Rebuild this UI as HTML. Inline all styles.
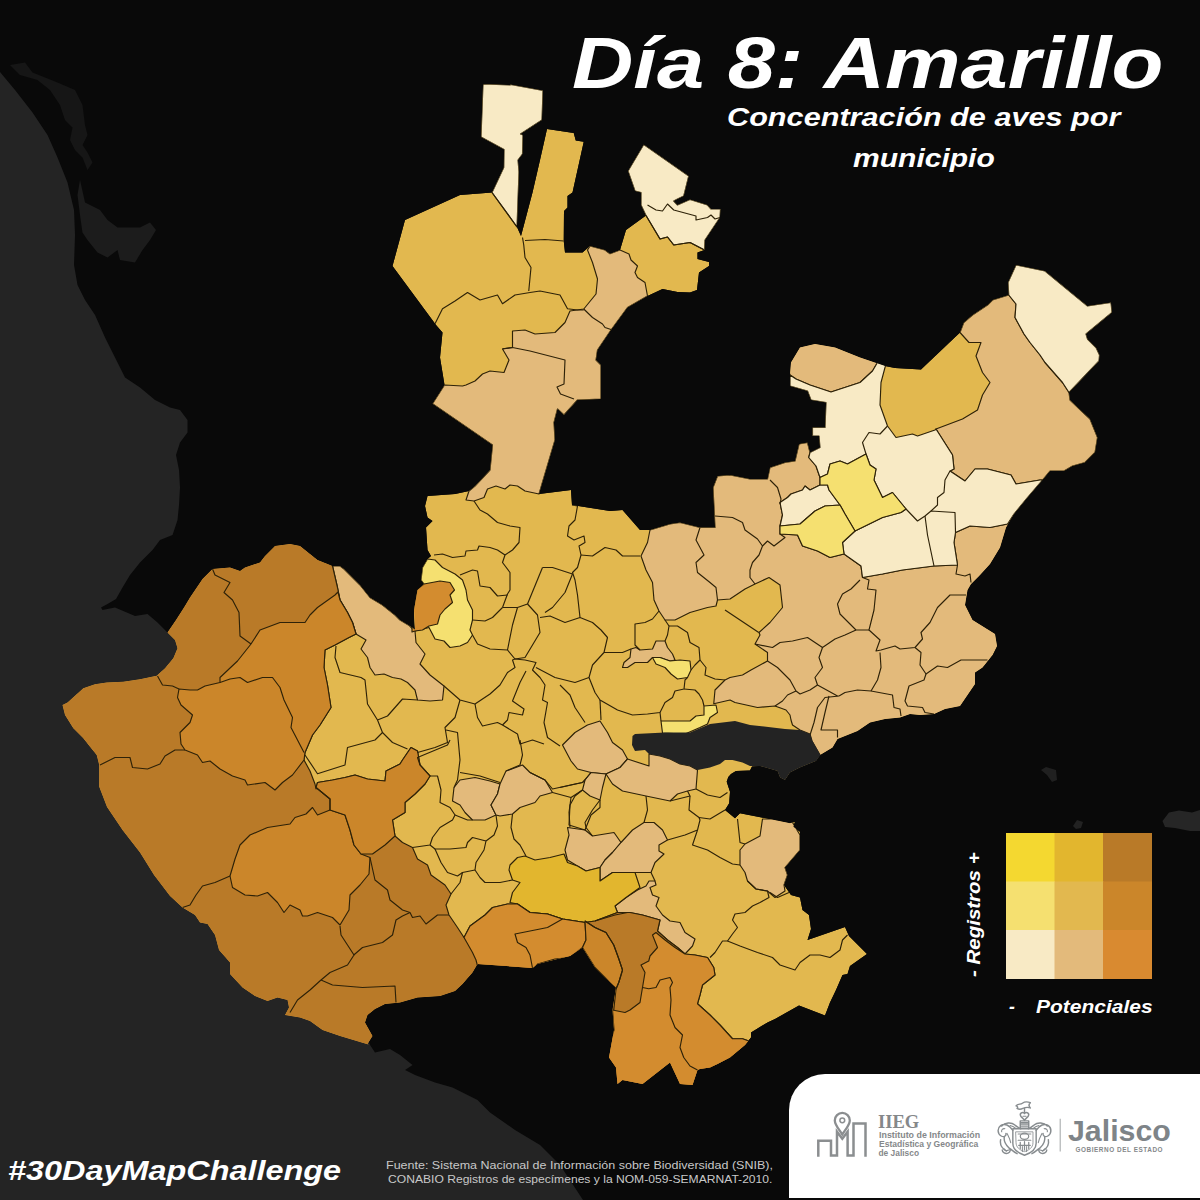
<!DOCTYPE html>
<html><head><meta charset="utf-8"><title>Dia 8: Amarillo</title>
<style>
html,body{margin:0;padding:0;background:#090909;}
body{width:1200px;height:1200px;position:relative;overflow:hidden;font-family:"Liberation Sans",sans-serif;color:#fff;}
.t{position:absolute;white-space:nowrap;line-height:1;transform-origin:0 0;}
#title{left:572.3px;top:25.5px;font-size:73px;font-weight:bold;font-style:italic;transform:scaleX(1.163);}
#sub1{left:727px;top:104px;font-size:26px;font-weight:bold;font-style:italic;transform:scaleX(1.179);}
#sub2{left:853px;top:144.5px;font-size:26px;font-weight:bold;font-style:italic;transform:scaleX(1.155);}
#hash{left:8px;top:1158px;font-size:27px;font-weight:bold;font-style:italic;transform:scaleX(1.2);}
#src1{left:386px;top:1160px;font-size:11px;color:#c8c8c8;transform:scaleX(1.136);}
#src2{left:388px;top:1174px;font-size:11px;color:#c8c8c8;transform:scaleX(1.10);}
#pot0{left:1009px;top:998.5px;font-size:17.5px;font-weight:bold;font-style:italic;}
#pot{left:1036px;top:998.5px;font-size:17.5px;font-weight:bold;font-style:italic;transform:scaleX(1.2);}
#reg{left:964px;top:977px;font-size:19px;font-weight:bold;font-style:italic;transform:rotate(-90deg) scaleX(1.078);}
#logo{position:absolute;left:789px;top:1074px;width:420px;height:123.500px;background:#fff;border-top-left-radius:36px;}
.lg{position:absolute;white-space:nowrap;line-height:1;transform-origin:0 0;color:#85888a;font-weight:bold;}
#iieg{left:878px;top:1113.4px;font-family:"Liberation Serif",serif;font-size:18.5px;transform:scaleX(1.0);}
#i1{left:878.5px;top:1131.2px;font-size:8.4px;transform:scaleX(1.06);}
#i2{left:878.5px;top:1140.4px;font-size:8.4px;transform:scaleX(1.02);}
#i3{left:878.5px;top:1149px;font-size:8.4px;transform:scaleX(1.0);}
#jal{left:1068px;top:1117px;font-size:28.7px;color:#7e8488;transform:scaleX(1.057);}
#gob{left:1075.5px;top:1147px;font-size:6.4px;letter-spacing:0.55px;color:#85888a;}

</style></head><body>
<svg width="1200" height="1200" viewBox="0 0 1200 1200" style="position:absolute;left:0;top:0">
<defs><clipPath id="st"><polygon points="483,84 510,85 510.5,84.5 543,90.5 542,120 520.5,134 523,135 522.5,154 518,160 519,172 517,227 521,236 532.5,192.5 540,160 547,129 573.75,133 575.75,140.5 583.75,141.75 577.5,170 572.5,192.5 567.5,196 567.5,207.5 564,211 563.75,241 565,252.5 582.5,252.5 590,246 605,250 610,253.75 620,250 626,230 646,215.5 641,205 641,192.5 635,191 628,171 643.75,144.5 688.75,176 683.75,196 677.5,199 673.75,201 677.5,205 690,199.5 707.5,205 711,209 720.5,209 720,217.5 705,240 704.5,250 697.5,252.5 697.5,259 709,262 709,266 699,272.5 697,290 690,292.5 677.5,292 662.5,289 647.5,296 627.5,307.5 611,330 597.5,350 596,360 601,365 601,399 577.5,400 564,415 557.5,409 554,422.5 555,440 539,494 571,490 572,505 610,511 622.5,510 640,530 650,530 670,524 680,522.5 700,527.5 715,527.5 713,487.5 717.5,476 730,475 750,479 767.5,479 770,467.5 785,462.5 795,461 799,444 807.5,442.5 810,452.5 820,447.5 819,436 812.5,436 812.5,427.5 825,427.5 826,402.5 811,400 807.5,391 790,386 790,375 791,362.5 800,347.5 815,344 835,347.5 860,357.5 885,366 895,368 921,369.5 960,332.5 963.75,322.5 972.5,315 987.5,305 992.5,300 1008.75,295 1008,282.5 1016,265 1045,271 1065,287.5 1087.5,306 1111,302.5 1112,312.5 1086,334 1087.5,339 1096,347.5 1099.5,355 1099,361 1069,392.5 1070,400 1090,419 1097.5,437.5 1095,452.5 1085,462.5 1072.5,466 1064,471 1050,471 1042.5,480 1027.5,497.5 1014,514 1006,527.5 1000,547.5 990,564 980,575 971,584 967.5,590 965,605 972.5,620 995,634 997,646 992.5,655 982.5,667.5 975,672.5 975,684 967.5,695 960,706 945,709 934,714 920,715 910,714 900,717.5 885,719 870,722.5 857.5,731 847.5,735 837.5,739 832.5,747.5 820,755 816,761 800,767.5 790,772.5 785,780 780,777.5 777.5,771 760,766 752,766.5 750,770.5 736,771 731,774 728.3,777 726.7,781.7 730,791.7 729.2,803.3 725,810 735,818.3 740,813.3 761.7,817.5 790,823.3 795,821.7 793.3,826.7 800,831.7 800,850 785,867.5 787.5,875 784,885 791,895 800,897.5 802.5,910 809,915 811,929 807.5,940 845,927 849,936 867,954 850,966 847.5,974 842.5,975 836,990 830,1002.5 825,1015.5 799,1005.5 775,1019 767.5,1022.5 751,1032.5 751,1037.5 745,1045 730,1057.5 717.5,1064 710,1067.5 700,1069 697.5,1070 692.5,1085 680,1084 670,1062.5 642.5,1084 622.5,1080 617.5,1084 616,1067.5 609,1057.5 614,1030 612.5,1010 616,987.5 605,977.5 595,967.5 582.5,947.5 570,956 557.5,959 537.5,964 532.5,968 477.5,964 472.5,972.5 462.5,984 455,991 440,996 417.5,997.5 400,1002.5 385,1004 375,1009 367.5,1015 365,1022.5 372.5,1036 367.5,1044 370,1045 340,1036 322.5,1030 310,1021 300,1017.5 285,1015 289,1007.5 287.5,1000 277.5,997.5 267.5,1001 255,996 242.5,987.5 230,974 230,962.5 219,950 215,935 207.5,924 200,922.5 195,915 182.5,907.5 170,896 154,875 140,852.5 122.5,830 107,807 99.2,786.7 99.2,765 96.7,755 90,746.7 83.3,738.3 73.3,728.3 65,715 62.5,705 67.5,702.5 75,695.8 83.3,688.3 95,684.2 106.7,682.5 123.3,681.7 140,679.2 156.7,675.8 165,668.3 173.3,658.3 177.5,648.3 175,640 167.5,632.5 176,620 184,607.5 190,597.5 202.5,579 212.5,569 230,567.5 240,571 245,567.5 260,562.5 265,556 275,546 290,544 300,546 305,550 317.5,560 332.5,566 340,566 344,569 350,575 360,585 370,597.5 382.5,605 395,615 400,620 410,626 415,630 414,610 417.5,590 424,584 421,580 422.5,567.5 427.5,559 431,556 427.5,550 426,527.5 432.5,521 427.5,517.5 425,506 427.5,496 455,494 469,491 475,486 490,470 492.5,445 432.5,403.75 444.5,385 440,357.5 442.5,332.5 436,325 392.5,266 405,220 460,195 492,192.5 503.75,167.5 504,149.5 481,137"/></clipPath></defs>
<rect width="1200" height="1200" fill="#090909"/>
<polygon points="0,72 15,90 32.5,112.5 47.5,135 57.5,157.5 67.5,182.5 74,210 75,235 74,265 77.5,285 85,300 95,315 105,337.5 115,357.5 125,377.5 140,387.5 155,400 170,407.5 180,410 187.5,420 187.5,432.5 180,442.5 176,455 179,470 180,487.5 179,505 177.5,520 172.5,535 160,540 152.5,550 140,562.5 130,575 122.5,587.5 116,599 107.5,604 101,607.5 102.5,610 115,607.5 135,616 147.5,614 157.5,622.5 167.5,632.5 190,640 370,1045 375,1052.5 390,1049 400,1055 412.5,1065 405,1070 415,1075 435,1082.5 452.5,1087.5 477.5,1100 490,1112.5 515,1130 540,1145 560,1165 583,1200 0,1200" fill="#242424"/>
<polygon points="80,180 85,202.5 100,210 107.5,220 117.5,227.5 140,227.5 150,222.5 156,230 150,240 142.5,250 135,262.5 120,260 117.5,250 107.5,257.5 97.5,252.5 87.5,240 82.5,232.5 80,215 77.5,195" fill="#1c1c1c"/>
<polygon points="10,65 25,62.5 32.5,72.5 57.5,82.5 75,90 82.5,105 85,125 87.5,135 82.5,145 87.5,152.5 92.5,162.5 87.5,170 82.5,157.5 75,150 70,140 72.5,127.5 65,120 60,105 50,90 37.5,80 20,75" fill="#161616"/>
<polygon points="1162.5,821 1169,812.5 1179,810.5 1192,812.5 1200,810 1200,831 1190,831 1175,828 1165,827" fill="#262626"/>
<polygon points="1073,826 1077,820 1083,822 1081,828 1076,829" fill="#222"/>
<polygon points="1041,770 1046,767 1056,770 1057,780 1052,782 1047,775" fill="#202020"/>
<g clip-path="url(#st)" stroke-linejoin="round">
<polygon points="483,84 510,85 510.5,84.5 543,90.5 542,120 520.5,134 523,135 522.5,154 518,160 519,172 517,227 521,236 532.5,192.5 540,160 547,129 573.75,133 575.75,140.5 583.75,141.75 577.5,170 572.5,192.5 567.5,196 567.5,207.5 564,211 563.75,241 565,252.5 582.5,252.5 590,246 605,250 610,253.75 620,250 626,230 646,215.5 641,205 641,192.5 635,191 628,171 643.75,144.5 688.75,176 683.75,196 677.5,199 673.75,201 677.5,205 690,199.5 707.5,205 711,209 720.5,209 720,217.5 705,240 704.5,250 697.5,252.5 697.5,259 709,262 709,266 699,272.5 697,290 690,292.5 677.5,292 662.5,289 647.5,296 627.5,307.5 611,330 597.5,350 596,360 601,365 601,399 577.5,400 564,415 557.5,409 554,422.5 555,440 539,494 571,490 572,505 610,511 622.5,510 640,530 650,530 670,524 680,522.5 700,527.5 715,527.5 713,487.5 717.5,476 730,475 750,479 767.5,479 770,467.5 785,462.5 795,461 799,444 807.5,442.5 810,452.5 820,447.5 819,436 812.5,436 812.5,427.5 825,427.5 826,402.5 811,400 807.5,391 790,386 790,375 791,362.5 800,347.5 815,344 835,347.5 860,357.5 885,366 895,368 921,369.5 960,332.5 963.75,322.5 972.5,315 987.5,305 992.5,300 1008.75,295 1008,282.5 1016,265 1045,271 1065,287.5 1087.5,306 1111,302.5 1112,312.5 1086,334 1087.5,339 1096,347.5 1099.5,355 1099,361 1069,392.5 1070,400 1090,419 1097.5,437.5 1095,452.5 1085,462.5 1072.5,466 1064,471 1050,471 1042.5,480 1027.5,497.5 1014,514 1006,527.5 1000,547.5 990,564 980,575 971,584 967.5,590 965,605 972.5,620 995,634 997,646 992.5,655 982.5,667.5 975,672.5 975,684 967.5,695 960,706 945,709 934,714 920,715 910,714 900,717.5 885,719 870,722.5 857.5,731 847.5,735 837.5,739 832.5,747.5 820,755 816,761 800,767.5 790,772.5 785,780 780,777.5 777.5,771 760,766 752,766.5 750,770.5 736,771 731,774 728.3,777 726.7,781.7 730,791.7 729.2,803.3 725,810 735,818.3 740,813.3 761.7,817.5 790,823.3 795,821.7 793.3,826.7 800,831.7 800,850 785,867.5 787.5,875 784,885 791,895 800,897.5 802.5,910 809,915 811,929 807.5,940 845,927 849,936 867,954 850,966 847.5,974 842.5,975 836,990 830,1002.5 825,1015.5 799,1005.5 775,1019 767.5,1022.5 751,1032.5 751,1037.5 745,1045 730,1057.5 717.5,1064 710,1067.5 700,1069 697.5,1070 692.5,1085 680,1084 670,1062.5 642.5,1084 622.5,1080 617.5,1084 616,1067.5 609,1057.5 614,1030 612.5,1010 616,987.5 605,977.5 595,967.5 582.5,947.5 570,956 557.5,959 537.5,964 532.5,968 477.5,964 472.5,972.5 462.5,984 455,991 440,996 417.5,997.5 400,1002.5 385,1004 375,1009 367.5,1015 365,1022.5 372.5,1036 367.5,1044 370,1045 340,1036 322.5,1030 310,1021 300,1017.5 285,1015 289,1007.5 287.5,1000 277.5,997.5 267.5,1001 255,996 242.5,987.5 230,974 230,962.5 219,950 215,935 207.5,924 200,922.5 195,915 182.5,907.5 170,896 154,875 140,852.5 122.5,830 107,807 99.2,786.7 99.2,765 96.7,755 90,746.7 83.3,738.3 73.3,728.3 65,715 62.5,705 67.5,702.5 75,695.8 83.3,688.3 95,684.2 106.7,682.5 123.3,681.7 140,679.2 156.7,675.8 165,668.3 173.3,658.3 177.5,648.3 175,640 167.5,632.5 176,620 184,607.5 190,597.5 202.5,579 212.5,569 230,567.5 240,571 245,567.5 260,562.5 265,556 275,546 290,544 300,546 305,550 317.5,560 332.5,566 340,566 344,569 350,575 360,585 370,597.5 382.5,605 395,615 400,620 410,626 415,630 414,610 417.5,590 424,584 421,580 422.5,567.5 427.5,559 431,556 427.5,550 426,527.5 432.5,521 427.5,517.5 425,506 427.5,496 455,494 469,491 475,486 490,470 492.5,445 432.5,403.75 444.5,385 440,357.5 442.5,332.5 436,325 392.5,266 405,220 460,195 492,192.5 503.75,167.5 504,149.5 481,137" fill="#E2B84F"/>
<polygon points="590,246 605,250 610,253.75 620,250 629,254 631,260 637.5,266 635,272.5 637.5,277.5 645,282.5 647.5,296 627.5,307.5 611,330 597.5,350 596,360 601,365 601,399 577.5,400 564,415 557.5,409 554,422.5 555,440 539,494 525,491 517.5,486 510,485 505,489 496,486 487.5,489 484,497.5 474,501 466,500 469,491 475,486 490,470 492.5,445 432.5,403.75 444.5,385 462.5,386 466,385 475,381 482.5,374 490,371 504,372.5 509,360 502.5,349 512.5,347.5 512.5,331 525,330 535,334 555,332.5 565,322.5 570,311 583.75,309 585,307.5 596,294 597.5,279 592.5,262.5 587.5,250" fill="#E3BA7B" stroke="#2e2208" stroke-width="1.15"/>
<polygon points="650,530 670,524 680,522.5 700,527.5 715,527.5 713,487.5 717.5,476 730,475 750,479 767.5,479 770,467.5 785,462.5 795,461 799,444 807.5,442.5 810,452.5 808.75,457.5 816,466 820,477.5 820,485 810,490 805,486 802.5,490 791,494 787.5,497.5 780,502.5 782.5,515 780,526 780,534 797.5,535 802.5,546 817.5,551 830,557.5 844,554 861,566 862.5,577.5 882.5,574 902.5,570 934,566 957.5,565 954,542.5 955.5,532.5 970,526 990,527.5 1007.5,524 1030,520 1010,640 990,700 900,730 830,760 820,755 812,741 810,734 800,730 792.5,725 791,720 790,715 786,710 775,706 757.5,707.5 735,702.5 730,700 713.75,703.75 715,690 725,680 730,677.5 742.5,675 751,670 767.5,661 767.5,652.5 755,644 760,635 759,632.5 770,622.5 782.5,607.5 780,585 769,577.5 755,584 745,589 730,599 717.5,600 716,606 707.5,607.5 690,612.5 675,620 665,620 659,611 654,600 652.5,582.5 646,570 641,556 647.5,542.5" fill="#E3BA7B" stroke="#2e2208" stroke-width="1.15"/>
<polygon points="936,429 952.5,455 954,469 950,471 965,481 975,469 987.5,469 1011,475 1016,484 1040,480 1042.5,480 1050,471 1064,471 1072.5,466 1085,462.5 1095,452.5 1097.5,437.5 1090,419 1070,400 1069,392.5 1062.5,382.5 1045,362.5 1040,355 1030,342.5 1024,334 1015,317.5 1016,304 1008.75,295 992.5,300 987.5,305 972.5,315 963.75,322.5 960,332.5 969,342.5 981,342.5 976,356 982.5,372.5 990,382.5 982.5,395 977.5,410 962.5,419" fill="#E3BA7B" stroke="#2e2208" stroke-width="1.15"/>
<polygon points="790,375 786,362 796,342 815,338 837,341 863,352 879,361 876,365 872.5,371 860,382.5 831,392 810,385 796,379" fill="#E3BA7B" stroke="#2e2208" stroke-width="1.15"/>
<polygon points="332.5,566 340,566 344,569 350,575 360,585 370,597.5 382.5,605 395,615 400,620 410,626 415,631 416,642.5 425,654 420,664 430,675 444,686 442.5,700 430,701 417.5,700 415,690 407.5,682.5 401,679 392.5,677.5 384,674 375,675 370,667.5 367.5,657.5 361,649 366,640 356,634 352.5,622.5 347.5,612.5 340,600 337.5,587.5" fill="#E3BA7B" stroke="#2e2208" stroke-width="1.15"/>
<polygon points="622.5,667.5 624,662.5 630,657.5 631,649 636,647.5 640,650 652.5,649 656,641 665,641 667.5,647.5 672.5,654 675,660 670,661 660,657.5 652.5,657.5 647.5,662.5 635,662.5 627.5,667.5" fill="#E3BA7B" stroke="#2e2208" stroke-width="1.15"/>
<polygon points="562.5,745 575,732.5 587.5,725 600,721 607.5,732.5 612.5,742.5 622.5,750 627.5,759 620,767.5 606,774 591,772.5 577.5,769 571,761" fill="#E3BA7B" stroke="#2e2208" stroke-width="1.15"/>
<polygon points="606,774 620,767.5 627.5,759 649,766 649,754 660,756 670,759 680,764 690,766 697.5,770 696,789 687.5,791 677.5,794 670,801 646,796 622.5,791 612.5,784" fill="#E3BA7B" stroke="#2e2208" stroke-width="1.15"/>
<polygon points="591,772.5 606,774 602.5,787.5 600,800 590,796 582.5,790 585,780" fill="#E3BA7B" stroke="#2e2208" stroke-width="1.15"/>
<polygon points="565,850 569,835 567.5,827.5 585,830 592.5,836 614,832.5 621,842.5 612.5,852.5 605,860 600,867.5 586,871 577.5,866 567.5,860" fill="#E3BA7B" stroke="#2e2208" stroke-width="1.15"/>
<polygon points="621,842.5 632.5,830 644,822.5 654,822.5 662.5,830 667.5,840 659,845 659,851 664,854 655,862.5 651,872.5 635,872.5 612.5,872.5 600,881 600,867.5 605,860 612.5,852.5" fill="#E3BA7B" stroke="#2e2208" stroke-width="1.15"/>
<polygon points="615,906 626,897.5 637.5,890 646,886 649,881 655,881 656,885 650,887.5 652.5,895 659,897.5 656,906 662.5,915 670,921 680,922.5 685,932.5 695,939 692.5,946 685,954 677.5,947.5 667.5,940 657.5,931 660,920 642.5,915 630,912.5 617.5,912.5" fill="#E3BA7B" stroke="#2e2208" stroke-width="1.15"/>
<polygon points="740,850 745,844 760,836 762.5,819 772.5,819 792.5,822.5 800,835 800,850 785,867.5 787.5,875 784,885 785,891 775,897.5 767.5,891 756,889 747.5,881 745,872.5 740,865" fill="#E3BA7B" stroke="#2e2208" stroke-width="1.15"/>
<polygon points="454,787.5 460,780 475,777.5 490,781 500,784 497.5,794 491,805 496,815 485,820 472.5,820 465,812.5 460,805 452.5,801" fill="#E3BA7B" stroke="#2e2208" stroke-width="1.15"/>
<polygon points="500,784 506,771 522.5,765 530,772.5 545,780 552.5,792.5 540,796 535,802.5 520,807.5 512.5,814 500,816 496,815 491,805 497.5,794" fill="#E3BA7B" stroke="#2e2208" stroke-width="1.15"/>
<polygon points="483,84 510,85 510.5,84.5 543,90.5 542,120 520.5,134 523,135 522.5,154 518,160 519,172 517,227 492,192.5 503.75,167.5 504,149.5 481,137" fill="#F8EAC5" stroke="#2e2208" stroke-width="1.15"/>
<polygon points="643.75,144.5 688.75,176 683.75,196 677.5,199 673.75,201 677.5,205 690,199.5 707.5,205 711,209 720.5,209 720,217.5 705,240 704.5,250 690,242.5 673.75,245 667.5,237 660,239 646,215.5 641,205 641,192.5 635,191 628,171" fill="#F8EAC5" stroke="#2e2208" stroke-width="1.15"/>
<polygon points="1008.75,295 1008,282.5 1016,265 1045,271 1065,287.5 1087.5,306 1111,302.5 1112,312.5 1086,334 1087.5,339 1096,347.5 1099.5,355 1099,361 1069,392.5 1062.5,382.5 1045,362.5 1040,355 1030,342.5 1024,334 1015,317.5 1016,304" fill="#F8EAC5" stroke="#2e2208" stroke-width="1.15"/>
<polygon points="790,375 796,379 810,385 831,392 860,382.5 872.5,371 876,365 879,360 887,362 885,367.5 881,382.5 880,405 887.5,426 896,437.5 912.5,434 917.5,436 935,430 936,429 952.5,455 954,469 950,471 965,481 975,469 987.5,469 1011,475 1016,484 1040,480 1042.5,480 1027.5,497.5 1014,514 1007.5,524 990,527.5 970,526 955.5,532.5 954,542.5 957.5,565 934,566 902.5,570 882.5,574 862.5,577.5 861,566 844,554 842.5,542.5 855,531 882.5,517.5 901,512.5 906,509 892.5,492.5 882.5,497.5 874,480 876,469 870,465 866,454 847.5,464 840,461 830,464 827.5,474 820,477.5 816,466 808.75,457.5 810,452.5 820,447.5 819,436 812.5,436 812.5,427.5 825,427.5 826,402.5 811,400 807.5,391 790,386" fill="#F8EAC5" stroke="#2e2208" stroke-width="1.15"/>
<polygon points="780,502.5 787.5,497.5 791,494 802.5,490 805,486 810,490 820,485 827.5,485 829,490 840,505 825,506 815,511 800,524 780,526 782.5,515" fill="#F8EAC5" stroke="#2e2208" stroke-width="1.15"/>
<polygon points="820,477.5 827.5,474 830,464 840,461 847.5,464 866,454 870,465 876,469 874,480 882.5,497.5 892.5,492.5 906,509 901,512.5 882.5,517.5 855,531 845,514 840,505 829,490 827.5,485 820,485" fill="#F5E070" stroke="#2e2208" stroke-width="1.15"/>
<polygon points="780,526 800,524 815,511 825,506 840,505 845,514 855,531 842.5,542.5 844,554 830,557.5 817.5,551 802.5,546 797.5,535 780,534" fill="#F5E070" stroke="#2e2208" stroke-width="1.15"/>
<polygon points="427.5,559 435,560 442.5,567.5 455,574 462.5,580 466,590 467.5,600 472.5,610 472.5,620 470,630 472.5,635 467.5,642.5 460,646 450,647.5 444,641 435,639 429,627.5 415,631 410,626 414,610 417.5,590 424,584 421,580 422.5,567.5" fill="#F5E070" stroke="#2e2208" stroke-width="1.15"/>
<polygon points="652.5,657.5 660,657.5 670,661 680,660 690,661 691,670 687.5,677.5 677.5,679 671,674 665,667.5 656,664" fill="#F5E070" stroke="#2e2208" stroke-width="1.15"/>
<polygon points="661,721 690,721 696,716 704,715 704,706 716,705 717.5,712.5 710,717.5 707.5,724 700,727.5 685,734 662.5,733" fill="#F5E070" stroke="#2e2208" stroke-width="1.15"/>
<polygon points="412,632 412,610 416,590 424,584 440,581 450,582.5 454.5,590 450,595 452.5,602.5 445,609 440,615 437.5,624 429,626 422.5,630 415,631" fill="#D38C2F" stroke="#2e2208" stroke-width="1.15"/>
<polygon points="510,865 517.5,857.5 525,856 535,860 550,857.5 564,854 567.5,862.5 577.5,866 586,871 600,867.5 600,881 612.5,872.5 635,872.5 640,887.5 626,897.5 615,906 617.5,912.5 595,921 585,922.5 562.5,919 547.5,914 530,912.5 517.5,904 510,902.5 512.5,892.5 520,882.5 512.5,880 509,870" fill="#E2B62E" stroke="#2e2208" stroke-width="1.15"/>
<polygon points="332.5,566 337.5,587.5 340,600 347.5,612.5 352.5,622.5 356,634 349,637.5 335,645 325,650 324,667.5 327.5,685 331,707.5 320,725 312.5,735 305,752.5 304,760 310,771 315,784 316,789 317.5,782.5 332.5,780 345,777.5 355,775 367.5,779 385,781 386,771 400,764 402.5,760 411,747.5 417.5,751 420,765 430,776 425,784 415,794 405,802.5 405,812.5 392.5,820 395,836 402.5,842.5 412.5,847.5 417.5,859 427.5,865 431,875 445,885 451,894 446,905 449,915 457.5,927.5 464,937.5 470,926 485,915 492.5,907.5 507.5,904 517.5,904 530,912.5 547.5,914 562.5,919 585,922.5 595,921 617.5,912.5 630,912.5 642.5,915 660,920 657.5,931 667.5,940 677.5,947.5 685,954 695,955 707.5,957.5 713.75,967.5 715,975 702.5,985 700,995 697.5,1003.75 710,1015 720,1025 732.5,1038.75 742.5,1038.75 760,1045 700,1110 360,1080 200,1080 40,900 40,680 160,600 200,540 300,530" fill="#B97A28" stroke="#2e2208" stroke-width="1.15"/>
<polygon points="251,644 260,630 280,622.5 305,622.5 310,615 317.5,607.5 335,595 338,592 340,600 347.5,612.5 352.5,622.5 356,634 349,637.5 335,645 325,650 324,667.5 327.5,685 331,707.5 320,725 312.5,735 305,752.5 304,760 292.5,775 282.5,782.5 275,790 265,782.5 247.5,785 245,780 232.5,776 220,769 210,761 202.5,762.5 197.5,755 185,750 181,744 180,732.5 190,722.5 192.5,715 181,705 177.5,697.5 179,689 190,690 197.5,690 205,686 220,682.5 220,677.5 237.5,661" fill="#CB862A" stroke="#2e2208" stroke-width="1.15"/>
<polygon points="230,876 235,859 240,845 250,835 267.5,827.5 290,824 295,817.5 306,814 312.5,807.5 317.5,815 330,810 345,815 350,830 354,845 361,854 370,857.5 369,874 360,885 350,895 349,910 340,925 332.5,917.5 317.5,912.5 307.5,916 302.5,916 300,910 290,905 284,912.5 277.5,902.5 267.5,892.5 257.5,896 245,895 232.5,887.5" fill="#CB862A" stroke="#2e2208" stroke-width="1.15"/>
<polygon points="402.5,760 411,747.5 417.5,751 420,765 430,776 425,784 415,794 405,802.5 405,812.5 392.5,820 395,836 385,845 372.5,854 361,854 354,845 350,830 345,815 330,810 330,799 316,787.5 317.5,782.5 332.5,780 345,777.5 355,775 367.5,779 385,781 386,771 400,764" fill="#CB862A" stroke="#2e2208" stroke-width="1.15"/>
<polygon points="464,937.5 470,926 485,915 492.5,907.5 507.5,904 517.5,904 530,912.5 547.5,914 562.5,919 585,922.5 586,940 582.5,947.5 570,957.5 555,959 537.5,964 532.5,970 477.5,966 476,960 472.5,952.5" fill="#D38C2F" stroke="#2e2208" stroke-width="1.15"/>
<polygon points="585,921 595,927.5 606,932.5 613.75,945 618.75,958.75 622.5,970 618.75,982.5 616,989 605,977.5 595,967.5 582.5,947.5 586,940" fill="#CB862A" stroke="#2e2208" stroke-width="1.15"/>
<polygon points="656,932.5 665,940 675,947.5 685,954 695,955 707.5,957.5 713.75,967.5 715,975 702.5,985 700,995 697.5,1003.75 710,1015 720,1025 732.5,1038.75 742.5,1038.75 760,1045 700,1110 600,1100 605,1057.5 614,1030 612.5,1010 625,1012.5 630,1010 640,1002.5 642.5,987.5 645,972.5 641,965 648.75,961 650,956 657.5,947.5 652.5,935" fill="#D38C2F" stroke="#2e2208" stroke-width="1.15"/>
<g fill="none" stroke="#2e2208" stroke-width="1.15">
<polyline points="435,323.75 442.5,308.75 455,301 467.5,292.5 480,300 497.5,295 502.5,303.75 515,295 530,292.5"/>
<polyline points="522.5,237.5 523.75,245 525,257.5 531,267.5 528.75,291"/>
<polyline points="530,292.5 540,291 560,295 567.5,308.75 577.5,310 583.75,310"/>
<polyline points="525,240.5 545,239.5 563.75,241"/>
<polyline points="492,192.5 517,227"/>
<polyline points="646,215.5 660,239 667.5,237 673.75,245 690,242.5 704.5,250"/>
<polyline points="647.5,205 656,210 662.5,211 667.5,204 673.75,210 696,216 696,220 707.5,217.5 711,215 715,219 720,217.5"/>
<polyline points="583.75,309 592.5,317.5 602.5,324 605,327.5 612.5,330"/>
<polyline points="502.5,348.75 512.5,347.5 530,351 565,360 564,384 557,387 560.5,394 574,399"/>
<polyline points="474,501 480,510 487.5,514 497.5,522.5 510,526 520,527.5 519,542.5 512.5,550 505,555 502.5,562.5 510,572.5 510,590 507.5,594 502.5,607.5"/>
<polyline points="434,555 442.5,554 452.5,557.5 465,556 466,551 477.5,550 479,546 490,547.5 497.5,550 505,555"/>
<polyline points="460,575 472.5,570 477.5,571 480,586 490,587.5 497.5,596 507.5,595"/>
<polyline points="572,505 577.5,506 575,520 569,526 567.5,536 574,540 584,536 585,542.5 579,546 581,555 577.5,567.5 572.5,572.5 575,580 577.5,595 580,617.5"/>
<polyline points="581,555 592.5,556 605,547.5 616,550 622.5,556 640,556"/>
<polyline points="542.5,567.5 552.5,567.5 572.5,574"/>
<polyline points="542.5,567.5 527.5,604"/>
<polyline points="502.5,607.5 492.5,617.5 485,621 472.5,620"/>
<polyline points="502.5,607.5 517.5,607.5 512.5,625 507.5,650"/>
<polyline points="472.5,635 477.5,644 490,649 507.5,650 515,659"/>
<polyline points="517.5,607.5 527.5,604"/>
<polyline points="527.5,604 537.5,615 540,632.5 525,657.5 515,659"/>
<polyline points="540,617.5 550,616 565,622.5 580,617.5 592.5,622.5 601,630 607.5,637.5 604,652.5"/>
<polyline points="572.5,574 565,592.5 552.5,607.5 545,612.5"/>
<polyline points="444,686 460,700 475,704 490,694 500,685 507.5,672.5 515,667.5 512.5,660 515,659"/>
<polyline points="515,659 525,660 536,662.5 532.5,670 540,677.5 545,685 542.5,700 547.5,702.5 544,722.5 547.5,737.5 560,746"/>
<polyline points="536,667.5 555,677.5 575,682.5 589,677.5"/>
<polyline points="526,671 520,682.5 512.5,701 524,709 522.5,715 509,712.5 507.5,720 502.5,725 517.5,734 520,744 532.5,740 544,744"/>
<polyline points="475,704 477.5,717.5 482.5,726 497.5,722.5 502.5,725"/>
<polyline points="460,700 455,717.5 445,727.5 447.5,742.5 435,747.5 417.5,752.5"/>
<polyline points="417.5,700 402.5,699 395,707.5 387.5,716 377.5,720 382.5,732.5 392.5,742.5 407.5,749"/>
<polyline points="377.5,720 367.5,704 365,680 361,677.5 340,672.5 335,657.5 336,646"/>
<polyline points="382.5,732.5 375,740 347.5,747.5 345,765 317.5,773.75 305,755"/>
<polyline points="446,730 457.5,732.5 460,760 457.5,780 454,787.5"/>
<polyline points="604,652.5 622.5,652.5 631,649"/>
<polyline points="659,611 652.5,619 645,622.5 635,624 635,645 640,650"/>
<polyline points="665,620 669,626 667.5,635 665,641"/>
<polyline points="669,626 677.5,626 687.5,632.5 690,642.5 699,647.5 700,660 695,665 691,670"/>
<polyline points="700,660 706,667.5 705,675 715,679 725,680"/>
<polyline points="604,652.5 592.5,665 589,677.5 595,692.5 600,700 617.5,710 632.5,715 647.5,714 660,712.5 665,702.5 672.5,697.5 675,691 684,689 685,680 687.5,677.5"/>
<polyline points="684,689 695,690 699,694 702.5,700 704,706"/>
<polyline points="660,712.5 661,721"/>
<polyline points="600,700 601,720"/>
<polyline points="560,685 570,695 575,707.5 585,722.5"/>
<polyline points="725,610 758.75,632.5"/>
<polyline points="700,527.5 696,540 704,555 696,562.5 697.5,572.5 710,582.5 716,587.5 717.5,600"/>
<polyline points="715,516 732.5,517.5 742.5,522.5 745,530 757.5,539 762.5,546 767.5,541 774,546 785,537.5 780,534"/>
<polyline points="762.5,546 759,555 752.5,562.5 750,570 750,577.5 755,584"/>
<polyline points="770,480 777.5,487.5 781,499 780,504"/>
<polyline points="860,580 851,589 842.5,594 837.5,604 840,614 850,624 856,630 869,630"/>
<polyline points="755,644 772.5,647.5 780,642.5 792.5,641 807.5,637.5 822.5,647.5 835,639 845,635 856,630"/>
<polyline points="822.5,647.5 819,657.5 822.5,667.5 815,677.5 817.5,685 837.5,696"/>
<polyline points="767.5,661 777.5,667.5 790,680 796,691 800,694 810,690 817.5,685"/>
<polyline points="796,691 787.5,695 782.5,701 775,706"/>
<polyline points="839,696 825,697.5 817.5,707.5 814,722.5 810,735"/>
<polyline points="829,696 825,712.5 821,730 837.5,730 837.5,737.5"/>
<polyline points="862.5,577.5 869,580 867.5,589 876,590 874,610 869,630 880,640 876,651 881,650 895,646 900,649 915,647.5 922.5,639 921,632.5 930,622.5 937.5,607.5 950,595 966,595"/>
<polyline points="880,652.5 881,667.5 877.5,680 871,691"/>
<polyline points="871,691 857.5,690 845,692.5 839,696"/>
<polyline points="871,691 892.5,695 894,707.5 900,709 901,716"/>
<polyline points="915,647.5 921,652.5 920,665 926,674 937.5,666 947.5,667.5 961,660 987.5,660"/>
<polyline points="926,674 924,680 909,686 905,701 907.5,706 922.5,707.5 925,712.5 934,714"/>
<polyline points="957.5,565 956,574 965,576 970,574 971,582.5"/>
<polyline points="866,454 862.5,442.5 869,432.5 880,434 887.5,426"/>
<polyline points="950,471 945,480 944,492.5 937.5,497.5 937.5,505 931,511"/>
<polyline points="906,509 917.5,521 925,516 931,511 955,512.5 955.5,532.5"/>
<polyline points="925,516 927.5,535 934,566"/>
<polyline points="212.5,569 215,575 230,582.5 224,592.5 232.5,600 239,612.5 240,636 251,644"/>
<polyline points="157.5,676 162.5,685 172.5,686 179,689"/>
<polyline points="220,682.5 230,679 240,677.5 247.5,682.5 262.5,677.5 272.5,677.5 280,687.5 284,700 292.5,717.5 291,727.5 297.5,740 304,752.5"/>
<polyline points="100,765 115,757.5 130,757.5 132.5,767.5 147.5,769 160,764 165,756 175,750 185,750"/>
<polyline points="182.5,907.5 190,905 196,895 202.5,886 215,882.5 230,876"/>
<polyline points="340,926 341,935 347.5,945 354,955 347.5,965 330,972.5 321,980 310,990 297.5,1000 290,1012.5"/>
<polyline points="321,980 332.5,985 362.5,987.5 395,986 396,1002.5"/>
<polyline points="353.75,955 362.5,947.5 382.5,942.5 392.5,935 396,920 402.5,916 410,912.5 412.5,917.5 420,916 426,924 437.5,915 449,915"/>
<polyline points="370,857.5 375,880 387.5,890 390,900 402.5,910 410,912.5"/>
<polyline points="316,787.5 330,799 330,810"/>
<polyline points="642.5,987.5 648.75,988.75 656,987.5 660,980 670,977.5 672.5,982.5 670,987.5 671,1000 670,1015 675,1027.5 682.5,1035 680,1047.5 683.75,1057.5 690,1066 697.5,1070"/>
<polyline points="562.5,919 547.5,927.5 515,934 517.5,942.5 526,947.5 530,955 532.5,968"/>
<polyline points="595,921 615,915 627.5,912.5"/>
<polyline points="585,921 595,927.5 606,932.5 613.75,945 618.75,958.75 622.5,970 618.75,982.5 616,989 613.75,1010"/>
<polyline points="420,765 417.5,757.5 447.5,745 450,740"/>
<polyline points="430,776 437.5,776 441,790 440,802.5 450,807.5 455,815 452.5,820 440,827.5 432.5,837.5 430,845 412.5,847.5"/>
<polyline points="460,772.5 480,776 500,782.5"/>
<polyline points="506,771 520,765 522.5,755 520,740"/>
<polyline points="530,772.5 545,780 552.5,789 575,784 582.5,782.5 591,772.5"/>
<polyline points="552.5,792.5 571,797.5 569,812.5 570,827.5"/>
<polyline points="571,797.5 582.5,790"/>
<polyline points="512.5,814 511,827.5 514,839 520,845 526,856"/>
<polyline points="496,815 497.5,826 494,835 486,841 484,850 476,862.5 475,870 480,877.5 485,882.5 500,882.5 512.5,880"/>
<polyline points="486,841 472.5,837.5 467.5,842.5 466,847.5 450,849 435,849 430,845"/>
<polyline points="435,849 441,862.5 447.5,872.5 457.5,876 462.5,872.5 475,870"/>
<polyline points="462.5,872.5 460,882.5 451,894"/>
<polyline points="455,815 467.5,820 472.5,820"/>
<polyline points="585,830 591,815 600,807.5 600,800"/>
<polyline points="560,787.5 582.5,782.5 585,780"/>
<polyline points="582.5,790 575,796 570,805 569,825 585,830"/>
<polyline points="600,800 592.5,810 585,822.5 586,827.5 592.5,836"/>
<polyline points="646,796 647.5,810 644,822.5"/>
<polyline points="670,801 690,796 687.5,791"/>
<polyline points="690,796 689,810 699,817.5 700,820 697.5,830 692.5,845 707.5,850 720,857.5 732.5,864 740,865"/>
<polyline points="699,817.5 710,819 725,810"/>
<polyline points="696,789 707.5,795 720,797.5 727.5,792.5"/>
<polyline points="697.5,830 685,835 667.5,840"/>
<polyline points="737.5,819 740,842.5 745,844"/>
<polyline points="651,872.5 655,881"/>
<polyline points="747.5,881 756,889 767.5,891 769,897.5 760,902.5 752.5,906 745,912.5 735,914 732.5,920 737.5,927.5 732.5,934 727.5,941 722.5,941 715,952.5 710,957.5"/>
<polyline points="727.5,941 740,946 757.5,952.5 772.5,957.5 780,965 795,970 800,962.5 810,955 820,955 830,957.5 840,950 842.5,940 847.5,935"/>
<polyline points="770,892.5 777.5,897.5 789,892.5"/>
</g></g>
<polygon points="632.5,736 635,734 665,732.5 690,732.5 710,724 735,721 750,725 785,729 800,730 810,734 812.5,741 820.5,755 816,761 800,767.5 790,772.5 785,780 780,777.5 777.5,771 760,766 750,766 742.5,762.5 732.5,760 725,760 720,764 710,767.5 697.5,770 690,766 680,764 670,759 660,756 649,754 645,750 635,751 632,745" fill="#232323"/>
<rect x="1006" y="833" width="49" height="49" fill="#F4D830"/>
<rect x="1054.5" y="833" width="49" height="49" fill="#E2B62E"/>
<rect x="1103" y="833" width="49" height="49" fill="#B97A28"/>
<rect x="1006" y="881.5" width="49" height="49" fill="#F5E070"/>
<rect x="1054.5" y="881.5" width="49" height="49" fill="#E2B84F"/>
<rect x="1103" y="881.5" width="49" height="49" fill="#CB862A"/>
<rect x="1006" y="930" width="49" height="49" fill="#F8EAC5"/>
<rect x="1054.5" y="930" width="49" height="49" fill="#E3BA7B"/>
<rect x="1103" y="930" width="49" height="49" fill="#D98A30"/>
</svg>
<div class="t" id="title">Día 8: Amarillo</div>
<div class="t" id="sub1">Concentración de aves por</div>
<div class="t" id="sub2">municipio</div>
<div class="t" id="hash">#30DayMapChallenge</div>
<div class="t" id="src1">Fuente: Sistema Nacional de Información sobre Biodiversidad (SNIB),</div>
<div class="t" id="src2">CONABIO Registros de especímenes y la NOM-059-SEMARNAT-2010.</div>
<div class="t" id="pot0">-</div>
<div class="t" id="pot">Potenciales</div>
<div class="t" id="reg">- Registros +</div>
<div id="logo"></div>
<svg width="1200" height="1200" viewBox="0 0 1200 1200" style="position:absolute;left:0;top:0">
<g fill="none" stroke="#8b8e90" stroke-width="2.5" stroke-linejoin="miter">
<path d="M818.3,1156.8 V1140.8 H831 V1155.6 H837 V1131.8 L842.3,1138.8 L847.6,1131.8 V1155.6 H853.5 V1123.5 H865.5 V1156.8"/>
<path d="M842.3,1134.5 C838,1128 834.8,1124.5 834.8,1120.4 A7.5,7.5 0 0 1 849.8,1120.4 C849.8,1124.5 846.6,1128 842.3,1134.5 Z" stroke-width="2.3"/>
<circle cx="842.3" cy="1120.3" r="2.4" stroke-width="1.5"/>
</g>
<line x1="1060.2" y1="1118.8" x2="1060.2" y2="1151.4" stroke="#a9acae" stroke-width="1.1"/>
<g fill="none" stroke="#878c8f" stroke-width="1.35" stroke-linecap="round" stroke-linejoin="round" transform="translate(1024.5 1128.2) scale(1.06 1.04) translate(-1022.5 -1128)">
<path d="M1014.5,1106.5 c2,-2.5 4,-1 6,-2.5 c2,-1.5 5,-1.5 7.5,-0.5 c-1.5,1.5 -1.5,3.5 0,5 c-2.500,-1 -5,-0.500 -7,0.500 c-2,1 -4,1 -5.500,0 c1,-1 0.500,-2 -1,-2.500z"/>
<path d="M1022.500,1109 v5"/>
<path d="M1022.500,1113.500 c-2.500,-1.500 -5,0.500 -3.500,3 c1,1.500 2.500,2 3.500,4 c1,-2 2.500,-2.500 3.500,-4 c1.500,-2.500 -1,-4.500 -3.500,-3z"/>
<path d="M1018.500,1121 h8 v7 h-8z M1019.500,1124 h6"/>
<path d="M1011.500,1128.500 h22 v14 c0,6 -5,9.500 -11,11.500 c-6,-2 -11,-5.500 -11,-11.500z"/>
<path d="M1014.500,1131.500 h16 v10.500 c0,4.500 -3.500,7 -8,8.500 c-4.500,-1.500 -8,-4 -8,-8.500z" stroke-width="0.8"/>
<ellipse cx="1022.500" cy="1135.800" rx="4" ry="3" stroke-width="1.15"/>
<path d="M1018.500,1141.500 v6 M1022.500,1141 v8 M1026.500,1141.500 v6 M1017,1144.500 h11" stroke-width="1.15"/>
<path d="M1011.500,1130 c-3,-5 -8,-7 -11.500,-4.500 c-3.500,2.500 -3,8 0.500,10 c2.500,1.500 5,0 4.500,-2.500 M1001,1126 c3,-3.500 9,-4 12.500,-1 c2.500,2 4,3 5.500,3.500"/>
<path d="M1033.500,1130 c3,-5 8,-7 11.500,-4.500 c3.500,2.500 3,8 -0.500,10 c-2.500,1.500 -5,0 -4.500,-2.500 M1044,1126 c-3,-3.500 -9,-4 -12.500,-1 c-2.500,2 -4,3 -5.500,3.500"/>
<path d="M1003.500,1136 c-1,5 1.500,8 4,10.500 c2,2 2,4.500 -0.500,5.500 c-2.500,1 -5.500,-0.500 -5.500,-3 M1000,1139 c-1,5 2,9 5.500,11 M1007.500,1146.500 c2.500,2 5,4.500 8,6"/>
<path d="M1041.500,1136 c1,5 -1.500,8 -4,10.500 c-2,2 -2,4.500 0.500,5.500 c2.500,1 5.500,-0.500 5.500,-3 M1045,1139 c1,5 -2,9 -5.500,11 M1037.500,1146.500 c-2.500,2 -5,4.500 -8,6"/>
<path d="M1004,1128.500 c-2,-0.500 -3.500,1 -3,3 M1041,1128.500 c2,-0.500 3.500,1 3,3 M1006,1133 c1.500,3 3,5.500 3.500,9 M1039,1133 c-1.500,3 -3,5.500 -3.500,9 M1003,1147.500 c1,2 3,2.500 4.500,1.500 M1042,1147.500 c-1,2 -3,2.500 -4.500,1.500 M1009,1125.500 c2,0.500 4,1.500 5.500,3 M1036,1125.500 c-2,0.500 -4,1.500 -5.500,3 M1016.500,1133.500 h12 M1016.500,1139.500 h12 M1020.500,1145.500 v5 M1024.500,1145.500 v5" stroke-width="1"/>
<path d="M1019.500,1122.500 h6 M1019.500,1126 h6 M1021,1116.500 h3" stroke-width="1"/>
</g>
</svg>
<div class="lg" id="iieg">IIEG</div>
<div class="lg" id="i1">Instituto de Información</div>
<div class="lg" id="i2">Estadística y Geográfica</div>
<div class="lg" id="i3">de Jalisco</div>
<div class="lg" id="jal">Jalisco</div>
<div class="lg" id="gob">GOBIERNO DEL ESTADO</div>
</body></html>
